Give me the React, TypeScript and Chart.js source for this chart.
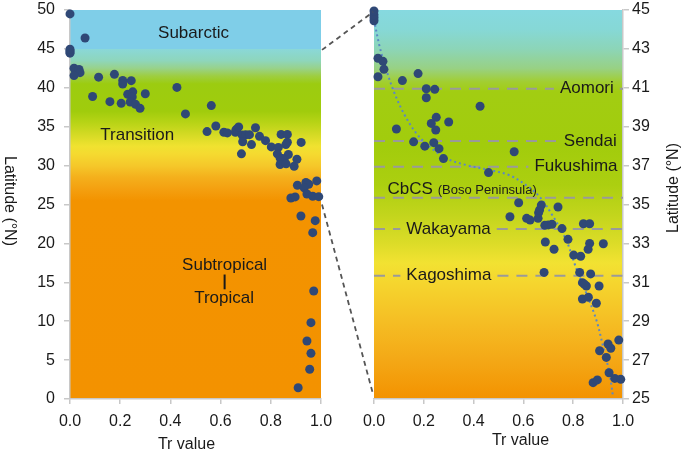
import React, { useEffect, useRef } from 'react';
import { Chart, registerables } from 'chart.js';

Chart.register(...registerables);

const FONT = '"Liberation Sans", Arial, Helvetica, sans-serif';

// ---------- data ----------
const trValues = [
  0.0, 0.06, 0.0, 0.0, 0.0, 0.0, 0.016, 0.036, 0.04, 0.016,
  0.114, 0.177, 0.21, 0.244, 0.21, 0.426, 0.25, 0.30, 0.23, 0.09,
  0.248, 0.159, 0.204, 0.24, 0.261, 0.279, 0.563, 0.46, 0.581, 0.546,
  0.613, 0.627, 0.659, 0.661, 0.665, 0.672, 0.739, 0.686, 0.70, 0.715,
  0.755, 0.841, 0.866, 0.688, 0.723, 0.779, 0.866, 0.921, 0.86, 0.802,
  0.83, 0.683, 0.826, 0.87, 0.837, 0.853, 0.845, 0.904, 0.837, 0.861,
  0.893, 0.983, 0.94, 0.951, 0.906, 0.933, 0.944, 0.967, 0.991, 0.88,
  0.897, 0.92, 0.977, 0.967, 0.971, 0.96, 0.944, 0.96, 0.955, 0.909,
];
const latValues = [
  49.5, 46.4, 44.45, 44.6, 44.75, 44.95, 42.52, 42.36, 41.95, 41.57,
  41.37, 41.73, 40.95, 40.92, 40.49, 40.05, 39.48, 39.24, 39.17, 38.88,
  38.83, 38.22, 38.0, 38.18, 37.87, 37.36, 37.71, 36.64, 35.09, 34.37,
  34.29, 34.2, 34.29, 34.58, 34.72, 34.97, 34.87, 33.93, 33.95, 33.98,
  33.76, 34.01, 34.01, 33.07, 32.7, 33.21, 33.0, 32.98, 32.7, 32.4,
  32.34, 31.51, 31.51, 31.43, 30.98, 30.81, 30.9, 30.81, 30.14, 30.23,
  29.92, 28.03, 27.83, 27.61, 27.48, 27.14, 26.35, 26.06, 26.01, 25.84,
  25.98, 23.52, 22.92, 21.38, 13.88, 9.81, 7.46, 5.87, 3.82, 1.45,
];
const fitTr = [0.0, 0.023, 0.05, 0.083, 0.123, 0.17, 0.224, 0.29, 0.37, 0.465, 0.545, 0.61, 0.665, 0.72, 0.772, 0.81, 0.853, 0.893, 0.92, 0.946, 0.96];
const fitLat = [44.5, 43.1, 41.9, 40.7, 39.6, 38.66, 37.97, 37.37, 37.03, 36.77, 36.5, 36.0, 35.4, 34.37, 33.17, 31.8, 30.43, 29.06, 27.7, 26.3, 25.1];

const xTicks = [0, 0.2, 0.4, 0.6, 0.8, 1.0];
const leftYTicks = [0, 5, 10, 15, 20, 25, 30, 35, 40, 45, 50];
const rightYTicks = [25, 27, 29, 31, 33, 35, 37, 39, 41, 43, 45];

const cityNames = ['Aomori', 'Sendai', 'Fukushima', 'CbCS', 'Wakayama', 'Kagoshima'];
const cityLats = [40.95, 38.26, 36.94, 35.35, 33.74, 31.34];
const zoneNames = ['Subarctic', 'Transition', 'Subtropical', 'Tropical'];

// ---------- layout / style ----------
const W = 685;
const H = 452;
const AXIS = '#c8c8c8';
const TEXT = '#1a1a1a';
const POINT = '#2f4876';

const leftStops: [number, string][] = [
  [50, '#7fcee8'], [45, '#7fcee8'], [45, '#8ad8d8'], [43.5, '#8ed6bc'], [42.5, '#98d28a'],
  [41.5, '#9ece40'], [40.5, '#9ccc10'], [37, '#a0cc0c'], [35.5, '#b8d416'], [34, '#d4da24'],
  [32.5, '#f0e230'], [31.5, '#f5da30'], [30, '#f5c82a'], [28.5, '#f4b01c'], [27, '#f4a010'],
  [25.5, '#f39300'], [0, '#f39200'],
];
const rightStops: [number, string][] = [
  [45, '#86d9e0'], [44, '#86d8d6'], [43, '#8cd5b8'], [42, '#98d184'], [41.3, '#a2ce30'],
  [40.8, '#a2cd12'], [38, '#a2cc0c'], [36, '#accf10'], [34.5, '#c2d51c'], [33, '#dcdc28'],
  [32, '#f2e232'], [31, '#f5d62e'], [29, '#f5be24'], [27, '#f4a816'], [25, '#f39200'],
];

// zone label placement (data coords)
const zonePos = [
  { tr: 0.492, lat: 47.05 },
  { tr: 0.268, lat: 33.87 },
  { tr: 0.616, lat: 17.16 },
  { tr: 0.614, lat: 12.98 },
];
// city label placement
const cityPos = [
  { tr: 0.963, align: 'right', mode: 'inline' },
  { tr: 0.975, align: 'right', mode: 'inline' },
  { tr: 0.978, align: 'right', mode: 'inline' },
  { tr: 0.054, align: 'left', mode: 'above' },
  { tr: 0.13, align: 'left', mode: 'inline' },
  { tr: 0.13, align: 'left', mode: 'inline' },
];

function bgPlugin(stops: [number, string][]) {
  return {
    id: 'zoneBg',
    beforeDraw(chart: any) {
      const { ctx, chartArea: a } = chart;
      const y = chart.scales.y;
      const top = y.getPixelForValue(y.max);
      const bottom = y.getPixelForValue(y.min);
      const g = ctx.createLinearGradient(0, top, 0, bottom);
      for (const [lat, c] of stops) {
        const off = (y.getPixelForValue(lat) - top) / (bottom - top);
        g.addColorStop(Math.min(1, Math.max(0, off)), c);
      }
      ctx.save();
      ctx.fillStyle = g;
      ctx.fillRect(a.left, a.top, a.right - a.left, a.bottom - a.top);
      ctx.restore();
    },
  };
}

function titlesPlugin(o: { xTitleX: number; xTitleBase: number; yTitleX: number; yTitleY: number; rot: number }) {
  return {
    id: 'titles',
    afterDraw(chart: any) {
      const ctx = chart.ctx;
      ctx.save();
      ctx.fillStyle = TEXT;
      ctx.font = `16px ${FONT}`;
      ctx.textAlign = 'center';
      ctx.textBaseline = 'alphabetic';
      ctx.fillText('Tr value', o.xTitleX, o.xTitleBase);
      ctx.translate(o.yTitleX, o.yTitleY);
      ctx.rotate(o.rot);
      ctx.textBaseline = 'middle';
      ctx.fillText('Latitude (°N)', 0, 0);
      ctx.restore();
    },
  };
}

const zonePlugin = {
  id: 'zones',
  beforeDatasetsDraw(chart: any) {
    const { ctx } = chart;
    const x = chart.scales.x;
    const y = chart.scales.y;
    ctx.save();
    ctx.fillStyle = TEXT;
    ctx.font = `17px ${FONT}`;
    ctx.textAlign = 'center';
    ctx.textBaseline = 'middle';
    zoneNames.forEach((n, i) => {
      ctx.fillText(n, x.getPixelForValue(zonePos[i].tr), y.getPixelForValue(zonePos[i].lat));
    });
    // separator bar between Subtropical and Tropical
    ctx.strokeStyle = TEXT;
    ctx.lineWidth = 2;
    ctx.beginPath();
    const bx = x.getPixelForValue(0.616);
    ctx.moveTo(bx, y.getPixelForValue(16.0));
    ctx.lineTo(bx, y.getPixelForValue(14.1));
    ctx.stroke();
    ctx.restore();
  },
};

const cityPlugin = {
  id: 'cities',
  beforeDatasetsDraw(chart: any) {
    const { ctx, chartArea: a } = chart;
    const x = chart.scales.x;
    const y = chart.scales.y;
    const gap = 6;
    ctx.save();
    ctx.strokeStyle = '#9a9a9a';
    ctx.lineWidth = 2;
    ctx.setLineDash([11, 8]);
    ctx.fillStyle = TEXT;
    cityNames.forEach((name, i) => {
      const p = cityPos[i];
      const yy = y.getPixelForValue(cityLats[i]);
      const seg = (x1: number, x2: number) => {
        if (x2 - x1 <= 1) return;
        ctx.beginPath();
        ctx.moveTo(x1, yy);
        ctx.lineTo(x2, yy);
        ctx.stroke();
      };
      ctx.font = `17px ${FONT}`;
      const w = ctx.measureText(name).width;
      const ax = x.getPixelForValue(p.tr);
      if (p.mode === 'above') {
        seg(a.left, a.right);
        ctx.textAlign = 'left';
        ctx.textBaseline = 'alphabetic';
        ctx.fillText(name, ax, yy - 4);
        ctx.font = `13px ${FONT}`;
        ctx.fillText('(Boso Peninsula)', ax + w + 5, yy - 4);
      } else {
        const tx1 = p.align === 'right' ? ax - w : ax;
        const tx2 = tx1 + w;
        seg(a.left, tx1 - gap);
        seg(tx2 + gap, a.right);
        ctx.textAlign = 'left';
        ctx.textBaseline = 'middle';
        ctx.fillText(name, tx1, yy);
      }
    });
    ctx.restore();
  },
};

function connectorPlugin(left: any) {
  return {
    id: 'connectors',
    afterDraw(chart: any) {
      const { ctx, chartArea: a } = chart;
      const ry = chart.scales.y;
      const lx = left.scales.x.getPixelForValue(left.scales.x.max);
      const ly1 = left.scales.y.getPixelForValue(ry.max);
      const ly2 = left.scales.y.getPixelForValue(ry.min);
      ctx.save();
      ctx.strokeStyle = '#555';
      ctx.lineWidth = 1.8;
      ctx.setLineDash([5, 4]);
      ctx.beginPath();
      ctx.moveTo(lx + 1, ly1 + 1);
      ctx.lineTo(a.left - 1, a.top + 2);
      ctx.moveTo(lx + 1, ly2);
      ctx.lineTo(a.left - 1, a.bottom - 5);
      ctx.stroke();
      ctx.restore();
    },
  };
}

function xScale() {
  return {
    type: 'linear' as const,
    min: 0,
    max: 1,
    afterBuildTicks: (s: any) => {
      s.ticks = xTicks.map((v) => ({ value: v }));
    },
    afterFit: (s: any) => {
      s.height = 53;
      s.paddingLeft = 0;
      s.paddingRight = 0;
    },
    ticks: {
      font: { size: 16, family: FONT },
      color: TEXT,
      padding: 8,
      maxRotation: 0,
      autoSkip: false,
      callback: (v: any) => Number(v).toFixed(1),
    },
    grid: { drawOnChartArea: false, drawTicks: true, tickLength: 5, color: AXIS, lineWidth: 1.5 },
    border: { display: true, color: AXIS, width: 1.5 },
  };
}

export default function App() {
  const leftRef = useRef<HTMLCanvasElement>(null);
  const rightRef = useRef<HTMLCanvasElement>(null);

  useEffect(() => {
    Chart.defaults.font.family = FONT;
    const points = trValues.map((x, i) => ({ x, y: latValues[i] }));
    const rightPoints = points.filter((p) => p.y >= 24.9 && p.y <= 45.1);
    const fitPoints = fitTr.map((x, i) => ({ x, y: fitLat[i] }));

    const left = new Chart(leftRef.current as HTMLCanvasElement, {
      type: 'scatter',
      data: {
        datasets: [
          {
            data: points,
            backgroundColor: POINT,
            borderWidth: 0,
            pointRadius: 4.5,
            clip: false as any,
          },
        ],
      },
      options: {
        animation: false,
        responsive: false,
        devicePixelRatio: 1,
        layout: { padding: { left: 0, right: W - 321, top: 10, bottom: 0 } },
        plugins: { legend: { display: false }, tooltip: { enabled: false } },
        scales: {
          x: xScale() as any,
          y: {
            type: 'linear',
            min: 0,
            max: 50,
            afterBuildTicks: (s: any) => {
              s.ticks = leftYTicks.map((v) => ({ value: v }));
            },
            afterFit: (s: any) => {
              s.width = 70;
              s.paddingTop = 0;
              s.paddingBottom = 0;
            },
            ticks: { font: { size: 16, family: FONT }, color: TEXT, padding: 9 },
            grid: { drawOnChartArea: false, drawTicks: true, tickLength: 6, color: AXIS, lineWidth: 1.5 },
            border: { display: true, color: AXIS, width: 1.5 },
          } as any,
        },
      },
      plugins: [
        bgPlugin(leftStops),
        zonePlugin,
        titlesPlugin({ xTitleX: 186.5, xTitleBase: 448.5, yTitleX: 9, yTitleY: 201, rot: Math.PI / 2 }),
      ],
    });

    const right = new Chart(rightRef.current as HTMLCanvasElement, {
      type: 'scatter',
      data: {
        datasets: [
          {
            data: rightPoints,
            backgroundColor: POINT,
            borderWidth: 0,
            pointRadius: 4.5,
            clip: false as any,
            order: 0,
          },
          {
            data: fitPoints,
            showLine: true,
            borderColor: '#5b87c5',
            borderWidth: 2,
            borderDash: [2, 3],
            pointRadius: 0,
            tension: 0.35,
            order: 1,
          } as any,
        ],
      },
      options: {
        animation: false,
        responsive: false,
        devicePixelRatio: 1,
        layout: { padding: { left: 374, right: 0, top: 10, bottom: 0 } },
        plugins: { legend: { display: false }, tooltip: { enabled: false } },
        scales: {
          x: xScale() as any,
          y: {
            type: 'linear',
            position: 'right',
            min: 25,
            max: 45,
            afterBuildTicks: (s: any) => {
              s.ticks = rightYTicks.map((v) => ({ value: v }));
            },
            afterFit: (s: any) => {
              s.width = W - 623;
              s.paddingTop = 0;
              s.paddingBottom = 0;
            },
            ticks: { font: { size: 16, family: FONT }, color: TEXT, padding: 3 },
            grid: { drawOnChartArea: false, drawTicks: true, tickLength: 6, color: AXIS, lineWidth: 1.5 },
            border: { display: true, color: AXIS, width: 1.5 },
          } as any,
        },
      },
      plugins: [
        bgPlugin(rightStops),
        cityPlugin,
        titlesPlugin({ xTitleX: 520.5, xTitleBase: 445, yTitleX: 674, yTitleY: 188, rot: -Math.PI / 2 }),
        connectorPlugin(left),
      ],
    });

    return () => {
      right.destroy();
      left.destroy();
    };
  }, []);

  return (
    <div style={{ position: 'fixed', left: 0, top: 0, width: W, height: H, background: '#fff' }}>
      <canvas ref={leftRef} width={W} height={H} style={{ position: 'absolute', left: 0, top: 0 }} />
      <canvas ref={rightRef} width={W} height={H} style={{ position: 'absolute', left: 0, top: 0 }} />
    </div>
  );
}
